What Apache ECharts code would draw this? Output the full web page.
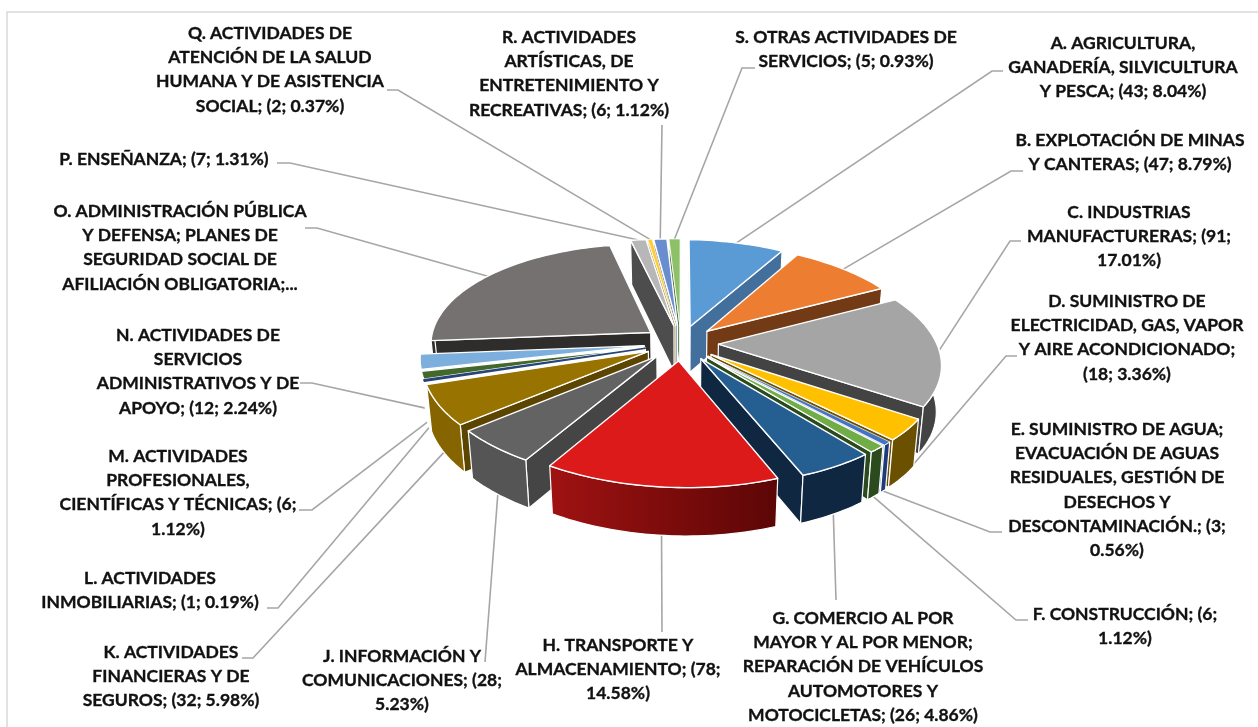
<!DOCTYPE html>
<html>
<head>
<meta charset="utf-8">
<title>Actividades</title>
<script src="https://cdn.jsdelivr.net/npm/echarts@6/dist/echarts.min.js"></script>
<style>
  html, body { margin: 0; padding: 0; background: #fff; }
  #chart { width: 1258px; height: 727px; }
</style>
</head>
<body>
<div id="chart"></div>
<script>
  // slices clockwise from 12 o'clock (O has no readable value, it is total minus the rest)
  const categories = ['A', 'B', 'C', 'D', 'E', 'F', 'G', 'H', 'J', 'K', 'L', 'M', 'N', 'O', 'P', 'Q', 'R', 'S']
  const values = [43, 47, 91, 18, 3, 6, 26, 78, 28, 32, 1, 6, 12, 124, 7, 2, 6, 5]
  const labels = [
    'A. AGRICULTURA,\nGANADERÍA, SILVICULTURA\nY PESCA; (43; 8.04%)',
    'B. EXPLOTACIÓN DE MINAS\nY CANTERAS; (47; 8.79%)',
    'C. INDUSTRIAS\nMANUFACTURERAS; (91;\n17.01%)',
    'D. SUMINISTRO DE\nELECTRICIDAD, GAS, VAPOR\nY AIRE ACONDICIONADO;\n(18; 3.36%)',
    'E. SUMINISTRO DE AGUA;\nEVACUACIÓN DE AGUAS\nRESIDUALES, GESTIÓN DE\nDESECHOS Y\nDESCONTAMINACIÓN.; (3;\n0.56%)',
    'F. CONSTRUCCIÓN; (6;\n1.12%)',
    'G. COMERCIO AL POR\nMAYOR Y AL POR MENOR;\nREPARACIÓN DE VEHÍCULOS\nAUTOMOTORES Y\nMOTOCICLETAS; (26; 4.86%)',
    'H. TRANSPORTE Y\nALMACENAMIENTO; (78;\n14.58%)',
    'J. INFORMACIÓN Y\nCOMUNICACIONES; (28;\n5.23%)',
    'K. ACTIVIDADES\nFINANCIERAS Y DE\nSEGUROS; (32; 5.98%)',
    'L. ACTIVIDADES\nINMOBILIARIAS; (1; 0.19%)',
    'M. ACTIVIDADES\nPROFESIONALES,\nCIENTÍFICAS Y TÉCNICAS; (6;\n1.12%)',
    'N. ACTIVIDADES DE\nSERVICIOS\nADMINISTRATIVOS Y DE\nAPOYO; (12; 2.24%)',
    'O. ADMINISTRACIÓN PÚBLICA\nY DEFENSA; PLANES DE\nSEGURIDAD SOCIAL DE\nAFILIACIÓN OBLIGATORIA;...',
    'P. ENSEÑANZA; (7; 1.31%)',
    'Q. ACTIVIDADES DE\nATENCIÓN DE LA SALUD\nHUMANA Y DE ASISTENCIA\nSOCIAL; (2; 0.37%)',
    'R. ACTIVIDADES\nARTÍSTICAS, DE\nENTRETENIMIENTO Y\nRECREATIVAS; (6; 1.12%)',
    'S. OTRAS ACTIVIDADES DE\nSERVICIOS; (5; 0.93%)'
  ]

  // styles
  const topColors = ['#5b9bd5', '#ed7d31', '#a5a5a5', '#ffc000', '#4472c4', '#70ad47', '#255e91', '#dc1a1a', '#636363', '#997300', '#264478', '#43682b', '#7cafdd', '#767171', '#b7b7b7', '#ffcd33', '#698ed0', '#8cc168']
  const sideColors = ['#436f9c', '#733a16', '#434343', '#6b5000', '#1f3a7a', '#2b4a1d', '#0f2740', '#7a0b0b', '#454545', '#5c4500', '#ffffff', '#ffffff', '#ffffff', '#2f2c2c', '#4d4d4d', '#8a6f1c', '#3f5a8c', '#4a6e38']
  const arcColors = ['#436f9c', '#733a16', '#434343', '#6b5000', '#1f3a7a', '#2b4a1d', '#0f2740', '#7a0b0b', '#555555', '#866500', '#ffffff', '#ffffff', '#ffffff', '#2f2c2c', '#4d4d4d', '#8a6f1c', '#3f5a8c', '#4a6e38']

  // label layout: centre x, first line y, then the start of the leader line
  const labelX = [1123, 1130, 1129, 1127, 1117, 1125, 863, 618, 402, 171, 150, 178, 198, 180, 164, 270, 569, 846]
  const labelY = [43, 140, 212, 301, 429, 614, 618, 645, 656, 652, 578, 456, 335, 211, 159, 33, 37, 37]
  const lineStart = [
    [[1003, 71], [992, 71]], [[1023, 171], [1011, 171]], [[1021, 241], [1010, 241]], [[1017, 356], [1006, 356]],
    [[1002, 532], [990, 532]], [[1028, 620], [1016, 620]], [[836, 600]], [[662, 632]], [[485, 662]],
    [[242, 658], [253, 658]], [[267, 608], [278, 608]], [[299, 510], [312, 510]], [[300, 383], [312, 383]],
    [[305, 228], [317, 228]], [[277, 163], [290, 163]], [[387, 90], [398, 90]], [[662, 125]], [[755, 68], [742, 68]]
  ]

  // fake 3D pie geometry
  const cx = 681
  const cy = 343
  const R = 220
  const squash = 0.47
  const persp = 0.14
  const explode = 0.17
  const shear = 0.019
  const lineHeight = 24.3

  const total = values.reduce((a, b) => a + b, 0)
  let acc = 0
  const slices = values.map((v, i) => {
    const s = { i: i, start: acc / total * 360, end: (acc + v) / total * 360 }
    s.mid = (s.start + s.end) / 2
    acc += v
    return s
  })
  const rad = d => d * Math.PI / 180

  // X right, Y towards the viewer, both in radius units
  function project(X, Y) {
    const f = 1 / (1 - persp * Y)
    const x = cx + X * R * f
    return { x: x, y: cy + Y * squash * R * f + (x - cx) * shear, f: f }
  }
  function lower(p) {
    return [cx + (p.x - cx) * 0.98, p.y + 46 + (p.f - 1) * 12]
  }
  function rimPoint(s, deg) {
    const X = Math.sin(rad(deg)) + explode * Math.sin(rad(s.mid))
    const Y = -Math.cos(rad(deg)) - explode * Math.cos(rad(s.mid))
    return project(X, Y)
  }
  function apexPoint(s) {
    return project(explode * Math.sin(rad(s.mid)), -explode * Math.cos(rad(s.mid)))
  }
  function arcRange(a, b) {
    const out = []
    const n = Math.max(2, Math.ceil((b - a) / 1.5))
    for (let k = 0; k <= n; k++) out.push(a + (b - a) * k / n)
    return out
  }
  function area(pts) {
    let sum = 0
    pts.forEach((p, k) => {
      const q = pts[(k + 1) % pts.length]
      sum += p[0] * q[1] - q[0] * p[1]
    })
    return sum
  }
  function poly(points, fill, lineWidth, stroke) {
    return {
      type: 'polygon',
      shape: { points: points },
      style: { fill: fill, stroke: stroke || '#fff', lineWidth: lineWidth, lineJoin: 'round' }
    }
  }

  function renderSlice(params, api) {
    const s = slices[api.value(0)]
    const i = s.i
    const sweep = s.end - s.start
    const apex = apexPoint(s)
    const apexTop = [apex.x, apex.y]
    const apexBottom = lower(apex)
    const children = []

    // the two cut faces, only when they look at the viewer
    const a = rimPoint(s, s.start)
    const b = rimPoint(s, s.end)
    const startWall = [apexTop, [a.x, a.y], lower(a), apexBottom]
    const endWall = [apexTop, [b.x, b.y], lower(b), apexBottom]
    if (area(startWall) < 0) children.push(poly(startWall, sideColors[i], 1.2))
    if (area(endWall) > 0) children.push(poly(endWall, sideColors[i], 1.2))

    // outer wall on the front half
    const from = Math.max(s.start, 90)
    const to = Math.min(s.end, 270)
    if (to > from) {
      const rim = arcRange(from, to).map(d => rimPoint(s, d))
      const wall = rim.map(p => [p.x, p.y]).concat(rim.map(lower).reverse())
      let fill = arcColors[i]
      if (categories[i] === 'H') {
        fill = new echarts.graphic.LinearGradient(0, 0, 1, 0, [
          { offset: 0, color: '#a01212' },
          { offset: 1, color: '#5c0606' }
        ])
      }
      children.push(poly(wall, fill, 1.2))
    }

    const top = [apexTop].concat(arcRange(s.start, s.end).map(d => {
      const p = rimPoint(s, d)
      return [p.x, p.y]
    }))
    // very thin slices would vanish under the white edge
    if (sweep < 1) children.push(poly(top, topColors[i], 1.6, topColors[i]))
    else children.push(poly(top, topColors[i], sweep < 4 ? 0.7 : 1.4))
    return { type: 'group', children: children }
  }

  function renderLeader(params, api) {
    const s = slices[api.value(0)]
    const rim = rimPoint(s, s.mid)
    const front = s.mid > 100 && s.mid < 262
    const end = front ? lower(rim) : [rim.x, rim.y]
    return {
      type: 'polyline',
      shape: { points: lineStart[s.i].concat([end]) },
      style: { fill: 'none', stroke: '#a6a6a6', lineWidth: 1.6 }
    }
  }

  function renderLabel(params, api) {
    const i = api.value(0)
    return {
      type: 'text',
      style: {
        text: labels[i],
        x: labelX[i],
        y: labelY[i] - lineHeight / 2,
        align: 'center',
        verticalAlign: 'top',
        fill: '#111',
        stroke: '#111',
        lineWidth: 0.35,
        font: 'bold 17.5px Lato',
        lineHeight: lineHeight
      }
    }
  }

  // far slices are painted first
  const paintOrder = slices.slice().sort((p, q) => {
    return -Math.cos(rad(p.mid)) - (-Math.cos(rad(q.mid)))
  })
  const indexData = slices.map(s => [s.i, values[s.i]])

  const chart = echarts.init(document.getElementById('chart'), null, { renderer: 'canvas' })
  chart.setOption({
    animation: false,
    backgroundColor: '#fff',
    graphic: [
      {
        type: 'polyline',
        z: 0,
        shape: { points: [[7, 740], [7, 12], [1270, 12]] },
        style: { fill: 'none', stroke: '#d9d9d9', lineWidth: 1.5 }
      }
    ],
    series: [
      {
        type: 'custom',
        name: 'guias',
        coordinateSystem: 'none',
        z: 1,
        silent: true,
        data: indexData,
        renderItem: renderLeader
      },
      {
        type: 'custom',
        name: 'sectores',
        coordinateSystem: 'none',
        z: 2,
        silent: true,
        data: paintOrder.map(s => ({ name: categories[s.i], value: [s.i, values[s.i]] })),
        renderItem: renderSlice
      },
      {
        type: 'custom',
        name: 'etiquetas',
        coordinateSystem: 'none',
        z: 3,
        silent: true,
        data: indexData,
        renderItem: renderLabel
      }
    ]
  })
</script>
</body>
</html>
